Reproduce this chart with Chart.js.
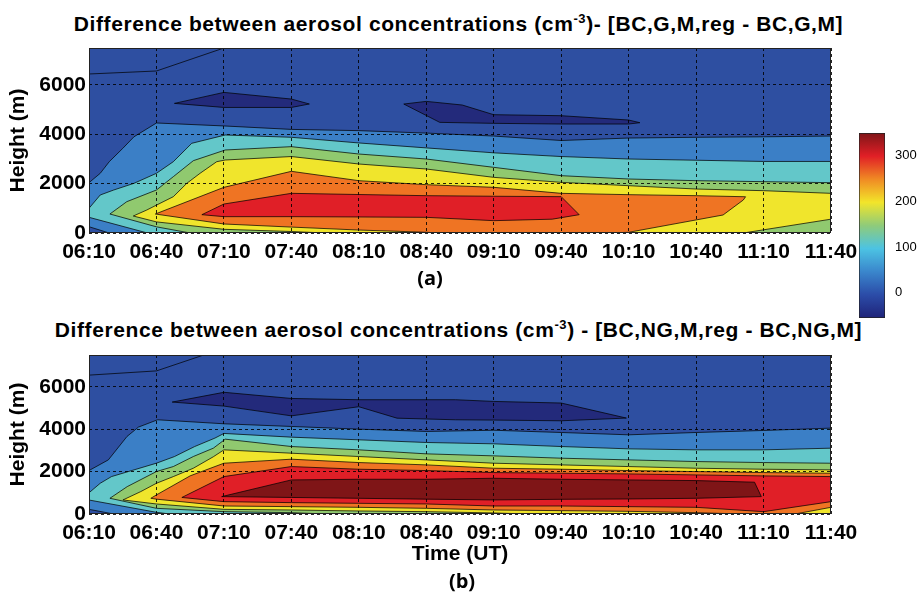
<!DOCTYPE html>
<html>
<head>
<meta charset="utf-8">
<script src="https://cdn.jsdelivr.net/npm/chart.js@4.4.0/dist/chart.umd.min.js"></script>
<style>
  body { margin: 0; background: #fff; }
  #page { position: relative; width: 917px; height: 592px; overflow: hidden; font-family: 'Liberation Sans', Arial, sans-serif; }
  .title { position: absolute; left: 0; width: 917px; text-align: center; font-weight: bold; font-size: 21px; letter-spacing: 0.6px; line-height: 22px; color: #000; white-space: nowrap; }
  .title sup { font-size: 13px; line-height: 0; vertical-align: 8px; }
  .panel { position: absolute; }
  .tag { position: absolute; font-family: 'Open Sans', sans-serif; font-weight: bold; font-size: 20px; transform: translate(-50%, -50%); }
</style>
</head>
<body>
<div id="page">
  <div class="title" style="top:13px">Difference between aerosol concentrations (cm<sup>-3</sup>)- [BC,G,M,reg - BC,G,M]</div>
  <canvas id="chartA" class="panel" width="917" height="230" style="left:0;top:40px"></canvas>
  <div class="tag" style="left:430px;top:277px">(a)</div>
  <div class="title" style="top:319px">Difference between aerosol concentrations (cm<sup>-3</sup>) - [BC,NG,M,reg - BC,NG,M]</div>
  <canvas id="chartB" class="panel" width="917" height="225" style="left:0;top:345px"></canvas>
  <div class="tag" style="left:462px;top:580px">(b)</div>
  <canvas id="cbar" class="panel" width="72" height="210" style="left:845px;top:120px"></canvas>
</div>
<script>
// time axis in minutes after midnight (06:10 = 370)
const TIME_TICKS = [370, 400, 430, 460, 490, 520, 550, 580, 610, 640, 670, 700];
const TIME_LABELS = ['06:10', '06:40', '07:10', '07:40', '08:10', '08:40', '09:10', '09:40', '10:10', '10:40', '11:10', '11:40'];
const HEIGHT_TICKS = [0, 2000, 4000, 6000];
const HEIGHT_MAX = 7500;

const CBAR_TICKS = [0, 100, 200, 300];
const CBAR_RANGE = [-55, 350];
const CBAR_STOPS = ['#1f2379', '#2b4ca8', '#3a86cc', '#4cc3e3', '#8fcb7a', '#f2e52a', '#f08a24', '#e11f26', '#7f1518'];

const C_NAVY = '#232a7b';
const C_BASE = '#2e4fa1';
const C_MED = '#3b7fc6';
const C_TEAL = '#63c7c9';
const C_GREEN = '#90c96f';
const C_YELLOW = '#f0e52c';
const C_ORANGE = '#ef7423';
const C_RED = '#e01f27';
const C_DARKRED = '#7f1517';

// ---- panel (a): contour band edges, [time, height m] ----
const A_TOP_UP = [[370, 7500], [430, 7500]];
const A_TOP_LO = [[370, 6446], [400, 6568], [430, 7500]];
const A_MED_UP = [[370, 2040], [375, 2420], [379, 2890], [385, 3430], [390, 3900], [400, 4460], [430, 4340], [460, 4200], [490, 4150], [520, 4050], [550, 3930], [580, 3750], [610, 3850], [640, 3880], [670, 3900], [700, 3930]];
const A_MED_LO = [[370, 255], [379, 0], [700, 0]];
const A_BLOB1_UP = [[408, 5255], [430, 5700], [460, 5430], [468, 5230]];
const A_BLOB1_LO = [[408, 5255], [430, 5090], [460, 5090], [468, 5230]];
const A_BLOB2_UP = [[510, 5228], [520, 5336], [536, 5188], [550, 4796], [580, 4755], [610, 4580], [615, 4472]];
const A_BLOB2_LO = [[510, 5228], [526, 4485], [550, 4445], [580, 4418], [610, 4418], [615, 4472]];
const A_TEAL_UP = [[370, 1001], [375, 1541], [381, 1743], [390, 2014], [400, 2420], [407.5, 2891], [415.7, 3636], [430.6, 3973], [460, 3880], [490, 3650], [520, 3450], [550, 3250], [580, 3100], [610, 3000], [640, 2950], [670, 2900], [700, 2900]];
const A_TEAL_LO = [[370, 636], [396, 0], [700, 0]];
const A_GREEN_UP = [[379.3, 770], [386.8, 1270], [400, 1743], [407.5, 2283], [416.4, 2932], [430.6, 3365], [460, 3500], [490, 3202], [520, 2999], [550, 2662], [580, 2324], [610, 2189], [640, 2121], [670, 2081], [700, 2040]];
const A_GREEN_LO = [[379.3, 770], [400, 250], [415, 0], [700, 0]];
const A_YELLOW_UP = [[389.7, 689], [395.7, 932], [400.1, 1135], [407.5, 1472], [413.5, 2014], [419.4, 2420], [426.8, 2891], [430.6, 2959], [460, 3100], [490, 2797], [520, 2594], [550, 2256], [580, 2054], [610, 1918], [640, 1783], [670, 1716], [700, 1608]];
const A_YELLOW_LO = [[389.7, 689], [400, 450], [430, 150], [460, 60], [475, 0], [661, 0], [700, 560]];
const A_ORANGE_UP = [[399.5, 770], [430, 1851], [460, 2500], [490, 2121], [520, 1959], [550, 1851], [580, 1608], [610, 1554], [640, 1513], [662, 1470]];
const A_ORANGE_LO = [[399.5, 770], [430, 365], [460, 240], [490, 120], [520, 30], [525, 0], [600, 0], [610, 28], [652, 730], [661, 1338], [662, 1470]];
const A_RED_UP = [[420.2, 743], [430, 1175], [460, 1608], [490, 1560], [520, 1513], [550, 1490], [580, 1473], [588, 743]];
const A_RED_LO = [[420.2, 743], [430, 662], [460, 662], [490, 650], [520, 635], [550, 500], [576, 560], [588, 743]];

// ---- panel (b) ----
const B_TOP_UP = [[370, 7500], [421, 7500]];
const B_TOP_LO = [[370, 6550], [400, 6750], [421, 7500]];
const B_MED_UP = [[370, 2050], [378.6, 2553], [386.9, 3656], [392, 4100], [400.5, 4444], [430, 4255], [460, 4129], [490, 4003], [520, 3893], [550, 3950], [580, 3845], [610, 3735], [640, 3845], [670, 3940], [700, 4050]];
const B_MED_LO = [[370, 220], [381, 0], [700, 0]];
const B_BLOB_UP = [[407, 5280], [430, 5740], [460, 5450], [490, 5390], [533, 5390], [550, 5310], [580, 5234], [609, 4525]];
const B_BLOB_LO = [[407, 5280], [430, 5090], [460, 4630], [490, 5060], [507, 4520], [533, 4444], [550, 4430], [580, 4397], [609, 4525]];
const B_TEAL_UP = [[370, 1000], [375, 1450], [380, 1765], [400, 2397], [408, 2709], [417, 3182], [426, 3580], [430, 3800], [460, 3625], [490, 3499], [520, 3373], [550, 3310], [580, 3183], [610, 3073], [640, 3026], [670, 3026], [700, 3105]];
const B_TEAL_LO = [[370, 660], [400, 79], [406, 0], [700, 0]];
const B_GREEN_UP = [[379.3, 741], [387, 1292], [400, 2002], [407.5, 2238], [416.4, 2711], [425.3, 3105], [430.6, 3530], [460, 3183], [490, 3026], [520, 2837], [550, 2742], [580, 2632], [610, 2553], [640, 2474], [670, 2427], [700, 2395]];
const B_GREEN_LO = [[379.3, 741], [400, 268], [430, 110], [460, 63], [475, 0], [700, 0]];
const B_YELLOW_UP = [[385.1, 662], [393, 1056], [400, 1450], [407.5, 1765], [416.4, 2159], [425.3, 2700], [430, 3026], [460, 2868], [490, 2711], [520, 2553], [550, 2396], [580, 2317], [610, 2238], [640, 2159], [670, 2112], [700, 2080]];
const B_YELLOW_LO = [[385.1, 662], [400, 473], [430, 220], [460, 189], [490, 142], [520, 110], [550, 50], [565, 0], [700, 0]];
const B_ORANGE_UP = [[397.5, 741], [400, 900], [415, 1800], [430, 2396], [460, 2585], [490, 2427], [520, 2317], [550, 2159], [580, 2112], [610, 2049], [640, 2001], [670, 1954], [700, 1923]];
const B_ORANGE_LO = [[397.5, 741], [400, 700], [430, 378], [460, 347], [490, 315], [520, 268], [550, 189], [580, 158], [610, 126], [640, 63], [660, 0], [684, 0], [700, 316]];
const B_RED_UP = [[411.3, 780], [430, 1765], [460, 2238], [490, 2112], [520, 2049], [550, 1954], [580, 1923], [610, 1891], [640, 1844], [670, 1797], [700, 1765]];
const B_RED_LO = [[411.3, 780], [430, 583], [460, 536], [490, 504], [520, 473], [550, 378], [580, 378], [610, 347], [640, 315], [670, 110], [700, 583]];
const B_DARKRED_UP = [[429, 820], [460, 1608], [490, 1639], [520, 1639], [550, 1686], [580, 1639], [610, 1608], [640, 1576], [666, 1500], [669, 820]];
const B_DARKRED_LO = [[429, 820], [460, 780], [490, 740], [520, 700], [550, 662], [580, 693], [610, 709], [640, 741], [669, 820]];

const FONT = "'Liberation Sans', Arial, sans-serif";

// closed polygon: upper edge left->right, lower edge right->left
function band(up, lo) {
    const pts = up.concat(lo.slice().reverse());
    pts.push(pts[0]);
    return pts.map(p => ({ x: p[0], y: p[1] }));
}

// plot background = lowest contour colour
const plotBg = {
    id: 'plotBg',
    beforeDatasetsDraw(chart) {
        const { ctx, chartArea: a } = chart;
        ctx.save();
        ctx.fillStyle = C_BASE;
        ctx.fillRect(a.left, a.top, a.right - a.left, a.bottom - a.top);
        ctx.restore();
    }
};

// outline the whole plot box like matlab does
const frame = {
    id: 'frame',
    afterDraw(chart) {
        const { ctx, chartArea: a } = chart;
        ctx.save();
        ctx.strokeStyle = '#222';
        ctx.lineWidth = 1;
        ctx.strokeRect(Math.round(a.left) + 0.5, Math.round(a.top) + 0.5,
            Math.round(a.right - a.left) - 1, Math.round(a.bottom - a.top) - 1);
        ctx.restore();
    }
};

function drawContour(id, layers, cfg) {
    const datasets = layers.map((l, i) => ({
        data: band(l[0], l[1]),
        backgroundColor: l[2],
        borderColor: 'rgba(0,0,0,0.8)',
        borderWidth: 0.9,
        fill: 'shape',
        showLine: true,
        pointRadius: 0,
        order: layers.length - i
    }));

    const tickFont = { family: FONT, size: 21, weight: 'bold' };

    return new Chart(document.getElementById(id), {
        type: 'scatter',
        data: { datasets },
        plugins: [plotBg, frame],
        options: {
            responsive: false,
            animation: false,
            events: [],
            layout: { padding: { top: cfg.top, right: 86, left: 0, bottom: 0 } },
            plugins: { legend: { display: false }, tooltip: { enabled: false } },
            scales: {
                x: {
                    type: 'linear',
                    min: TIME_TICKS[0],
                    max: TIME_TICKS[TIME_TICKS.length - 1],
                    afterBuildTicks: s => { s.ticks = TIME_TICKS.map(v => ({ value: v })); },
                    afterFit: s => { s.height = cfg.xh; s.paddingLeft = 0; s.paddingRight = 0; },
                    ticks: {
                        autoSkip: false,
                        maxRotation: 0,
                        padding: 7,
                        color: '#000',
                        font: tickFont,
                        callback: v => TIME_LABELS[TIME_TICKS.indexOf(v)]
                    },
                    grid: { z: 1, color: 'rgba(0,0,0,0.85)', lineWidth: 1, drawTicks: false },
                    border: { display: false, dash: [3, 3] },
                    title: {
                        display: !!cfg.xTitle,
                        text: cfg.xTitle || '',
                        color: '#000',
                        font: { family: FONT, size: 21, weight: 'bold' },
                        padding: { top: 0, bottom: 3 }
                    }
                },
                y: {
                    type: 'linear',
                    min: 0,
                    max: HEIGHT_MAX,
                    afterBuildTicks: s => { s.ticks = HEIGHT_TICKS.map(v => ({ value: v })); },
                    afterFit: s => { s.width = 89; s.paddingTop = 0; s.paddingBottom = 0; },
                    ticks: {
                        padding: 3,
                        color: '#000',
                        font: tickFont,
                        callback: v => String(v)
                    },
                    grid: { z: 1, color: 'rgba(0,0,0,0.85)', lineWidth: 1, drawTicks: false },
                    border: { display: false, dash: [3, 3] },
                    title: {
                        display: true,
                        text: 'Height (m)',
                        color: '#000',
                        font: { family: FONT, size: 21, weight: 'bold' },
                        padding: { top: 6, bottom: 0 }
                    }
                }
            }
        }
    });
}

drawContour('chartA', [
    [A_TOP_UP, A_TOP_LO, C_BASE],
    [A_MED_UP, A_MED_LO, C_MED],
    [A_BLOB1_UP, A_BLOB1_LO, C_NAVY],
    [A_BLOB2_UP, A_BLOB2_LO, C_NAVY],
    [A_TEAL_UP, A_TEAL_LO, C_TEAL],
    [A_GREEN_UP, A_GREEN_LO, C_GREEN],
    [A_YELLOW_UP, A_YELLOW_LO, C_YELLOW],
    [A_ORANGE_UP, A_ORANGE_LO, C_ORANGE],
    [A_RED_UP, A_RED_LO, C_RED]
], { top: 8, xh: 37 });

drawContour('chartB', [
    [B_TOP_UP, B_TOP_LO, C_BASE],
    [B_MED_UP, B_MED_LO, C_MED],
    [B_BLOB_UP, B_BLOB_LO, C_NAVY],
    [B_TEAL_UP, B_TEAL_LO, C_TEAL],
    [B_GREEN_UP, B_GREEN_LO, C_GREEN],
    [B_YELLOW_UP, B_YELLOW_LO, C_YELLOW],
    [B_ORANGE_UP, B_ORANGE_LO, C_ORANGE],
    [B_RED_UP, B_RED_LO, C_RED],
    [B_DARKRED_UP, B_DARKRED_LO, C_DARKRED]
], { top: 10, xh: 56, xTitle: 'Time (UT)' });

// colorbar
new Chart(document.getElementById('cbar'), {
    type: 'bar',
    data: {
        labels: [''],
        datasets: [{
            data: [CBAR_RANGE],
            barPercentage: 1,
            categoryPercentage: 1,
            borderWidth: 1,
            borderColor: '#222',
            borderSkipped: false,
            backgroundColor: c => {
                const { ctx, chartArea } = c.chart;
                if (!chartArea) return C_BASE;
                const g = ctx.createLinearGradient(0, chartArea.bottom, 0, chartArea.top);
                CBAR_STOPS.forEach((col, i) => g.addColorStop(i / (CBAR_STOPS.length - 1), col));
                return g;
            }
        }]
    },
    options: {
        responsive: false,
        animation: false,
        events: [],
        layout: { padding: { left: 14, top: 13, bottom: 12, right: 0 } },
        plugins: { legend: { display: false }, tooltip: { enabled: false } },
        scales: {
            x: { display: false },
            y: {
                position: 'right',
                min: CBAR_RANGE[0],
                max: CBAR_RANGE[1],
                afterBuildTicks: s => { s.ticks = CBAR_TICKS.map(v => ({ value: v })); },
                afterFit: s => { s.width = 32; s.paddingTop = 0; s.paddingBottom = 0; },
                grid: { display: false },
                border: { display: false },
                ticks: { padding: 2, color: '#000', font: { family: FONT, size: 13 } }
            }
        }
    }
});
</script>
</body>
</html>
